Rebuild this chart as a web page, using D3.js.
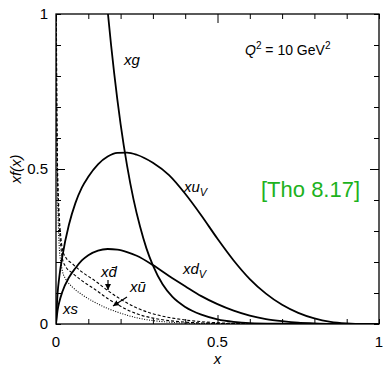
<!DOCTYPE html>
<html lang="en">
<head>
    <meta charset="UTF-8">
    <title>Parton distributions</title>
    <script src="https://d3js.org/d3.v7.min.js"></script>
    <style>
        body { margin: 0; background: #fff; }
        svg { font-family: "Liberation Sans", Arial, sans-serif; }
        .curve { fill: none; stroke: #000; stroke-width: 1.8px; }
        .dashed { stroke-width: 1.1px; stroke-dasharray: 3 2; }
        .dotted { stroke-width: 1.1px; stroke-dasharray: 1 1.5; }
        .frame { fill: none; stroke: #000; stroke-width: 1.3px; }
        .lbl { font-size: 15px; font-style: italic; }
    </style>
</head>
<body>
    <svg width="385" height="366"></svg>
    <script>
        // valence distributions
        const xVal = [0, 0.005, 0.01, 0.02, 0.04, 0.06, 0.08, 0.1, 0.13, 0.16, 0.19, 0.22, 0.25, 0.3, 0.35, 0.4, 0.45, 0.5, 0.55, 0.6, 0.65, 0.7, 0.75, 0.8, 0.85, 0.9, 0.95, 1];
        const xuV = [0, 0.10, 0.15, 0.22, 0.32, 0.39, 0.44, 0.475, 0.515, 0.54, 0.552, 0.553, 0.546, 0.52, 0.48, 0.42, 0.35, 0.275, 0.205, 0.145, 0.098, 0.062, 0.036, 0.018, 0.007, 0.002, 0, 0];
        const xdV = [0, 0.045, 0.07, 0.105, 0.15, 0.18, 0.205, 0.222, 0.237, 0.242, 0.24, 0.232, 0.22, 0.19, 0.155, 0.122, 0.09, 0.064, 0.043, 0.027, 0.016, 0.009, 0.004, 0.002, 0.0005, 0, 0, 0];

        // gluon
        const xGlu = [0.1, 0.12, 0.14, 0.16, 0.18, 0.2, 0.22, 0.24, 0.26, 0.28, 0.3, 0.33, 0.36, 0.4, 0.45, 0.5, 0.55, 0.6, 0.7, 0.8, 1];
        const xg = [1.95, 1.55, 1.25, 1.01, 0.81, 0.645, 0.511, 0.402, 0.315, 0.244, 0.189, 0.128, 0.088, 0.055, 0.03, 0.015, 0.007, 0.003, 0.001, 0, 0];

        // sea quarks
        const xSea = [0.0005, 0.001, 0.002, 0.004, 0.007, 0.01, 0.015, 0.02, 0.03, 0.05, 0.08, 0.12, 0.16, 0.2, 0.25, 0.3, 0.35, 0.4, 0.5, 0.6, 0.7, 1];
        const xdbar = [1.6, 1.15, 0.8, 0.56, 0.42, 0.35, 0.28, 0.24, 0.215, 0.195, 0.168, 0.14, 0.108, 0.08, 0.052, 0.033, 0.021, 0.013, 0.004, 0.001, 0, 0];
        const xubar = [1.55, 1.1, 0.75, 0.52, 0.39, 0.32, 0.25, 0.21, 0.185, 0.165, 0.14, 0.112, 0.082, 0.057, 0.033, 0.019, 0.011, 0.006, 0.002, 0, 0, 0];
        const xsSea = [1.4, 1.0, 0.68, 0.46, 0.33, 0.25, 0.2, 0.17, 0.145, 0.12, 0.095, 0.07, 0.05, 0.035, 0.02, 0.011, 0.006, 0.003, 0.001, 0, 0, 0];

        const tickVals = d3.range(0, 11).map(i => i / 10);
        const xTickLabels = [[0, "0"], [0.5, "0.5"], [1, "1"]];
        const yTickLabels = [[0, "0"], [0.5, "0.5"], [1, "1"]];

        const svg = d3.select("svg");
        const plotL = 56, plotR = 379, plotT = 14, plotB = 324;

        const x = d3.scaleLinear().domain([0, 1]).range([plotL, plotR]);
        const y = d3.scaleLinear().domain([0, 1]).range([plotB, plotT]);

        const defs = svg.append("defs");
        defs.append("clipPath").attr("id", "plotClip")
            .append("rect")
            .attr("x", plotL).attr("y", plotT)
            .attr("width", plotR - plotL).attr("height", plotB - plotT);

        // ticks on all four sides, pointing inward
        const tickLen = v => Math.abs(v - 0.5) < 1e-6 ? 9 : 5;
        function addAxis(axis, tx, ty) {
            const g = svg.append("g").attr("transform", `translate(${tx},${ty})`)
                .call(axis.tickValues(tickVals).tickFormat("").tickSizeOuter(0));
            g.select(".domain").remove();
            g.selectAll(".tick line").attr("stroke", "#000").attr("stroke-width", 1);
            return g;
        }
        addAxis(d3.axisBottom(x), 0, plotB)
            .selectAll(".tick line").attr("y2", d => -tickLen(d));
        addAxis(d3.axisTop(x), 0, plotT)
            .selectAll(".tick line").attr("y2", d => tickLen(d));
        addAxis(d3.axisLeft(y), plotL, 0)
            .selectAll(".tick line").attr("x2", d => tickLen(d));
        addAxis(d3.axisRight(y), plotR, 0)
            .selectAll(".tick line").attr("x2", d => -tickLen(d));

        // tick labels
        svg.append("g").selectAll("text").data(xTickLabels).enter().append("text")
            .attr("x", d => x(d[0])).attr("y", 347)
            .attr("text-anchor", "middle").attr("font-size", 15)
            .text(d => d[1]);
        svg.append("g").selectAll("text").data(yTickLabels).enter().append("text")
            .attr("x", 48).attr("y", d => y(d[0]) + 5)
            .attr("text-anchor", "end").attr("font-size", 15)
            .text(d => d[1]);

        // axis titles
        svg.append("text").attr("class", "lbl")
            .attr("x", x(0.5)).attr("y", 364).attr("text-anchor", "middle")
            .text("x");
        svg.append("text").attr("class", "lbl")
            .attr("transform", `translate(21,${y(0.5)}) rotate(-90)`)
            .attr("text-anchor", "middle")
            .text("xf(x)");

        // curves
        const plot = svg.append("g").attr("clip-path", "url(#plotClip)");
        const line = d3.line().x(d => x(d[0])).y(d => y(d[1])).curve(d3.curveMonotoneX);
        const series = [
            { xv: xVal, yv: xuV, cls: "curve" },
            { xv: xVal, yv: xdV, cls: "curve" },
            { xv: xGlu, yv: xg, cls: "curve" },
            { xv: xSea, yv: xdbar, cls: "curve dashed" },
            { xv: xSea, yv: xubar, cls: "curve dashed" },
            { xv: xSea, yv: xsSea, cls: "curve dotted" }
        ];
        plot.selectAll("path.series").data(series).enter().append("path")
            .attr("class", d => d.cls)
            .attr("d", d => line(d.xv.map((v, i) => [v, d.yv[i]])));

        svg.append("rect").attr("class", "frame")
            .attr("x", plotL).attr("y", plotT)
            .attr("width", plotR - plotL).attr("height", plotB - plotT);

        // curve labels
        const lbl = svg.append("g").attr("class", "lbl");
        lbl.append("text").attr("x", 124).attr("y", 65).text("xg");
        const tu = lbl.append("text").attr("x", 184).attr("y", 192).text("xu");
        tu.append("tspan").attr("dy", 4).attr("font-size", 11).text("V");
        const td = lbl.append("text").attr("x", 183).attr("y", 274).text("xd");
        td.append("tspan").attr("dy", 4).attr("font-size", 11).text("V");
        lbl.append("text").attr("x", 101).attr("y", 277).text("xd\u0304");
        lbl.append("text").attr("x", 130).attr("y", 292).text("xu\u0304");
        lbl.append("text").attr("x", 63).attr("y", 314).text("xs");

        // arrows
        defs.append("marker")
            .attr("id", "head").attr("viewBox", "0 0 10 10")
            .attr("refX", 10).attr("refY", 5)
            .attr("markerWidth", 5).attr("markerHeight", 5)
            .attr("orient", "auto")
            .append("path").attr("d", "M 0 0 L 10 5 L 0 10 Z").attr("fill", "#000");
        svg.append("line").attr("x1", 108).attr("y1", 280).attr("x2", 108).attr("y2", 290)
            .attr("stroke", "#000").attr("stroke-width", 1.2).attr("marker-end", "url(#head)");
        svg.append("line").attr("x1", 127).attr("y1", 297).attr("x2", 113).attr("y2", 306)
            .attr("stroke", "#000").attr("stroke-width", 1.2).attr("marker-end", "url(#head)");

        // annotations
        const q = svg.append("text").attr("x", 245).attr("y", 55).attr("font-size", 14);
        q.append("tspan").attr("font-style", "italic").text("Q");
        q.append("tspan").attr("dy", -6).attr("font-size", 10).text("2");
        q.append("tspan").attr("dy", 6).text(" = 10 GeV");
        q.append("tspan").attr("dy", -6).attr("font-size", 10).text("2");

        svg.append("text").attr("x", 261).attr("y", 197)
            .attr("font-size", 22).attr("fill", "#1db21d")
            .text("[Tho 8.17]");
    </script>
</body>
</html>
